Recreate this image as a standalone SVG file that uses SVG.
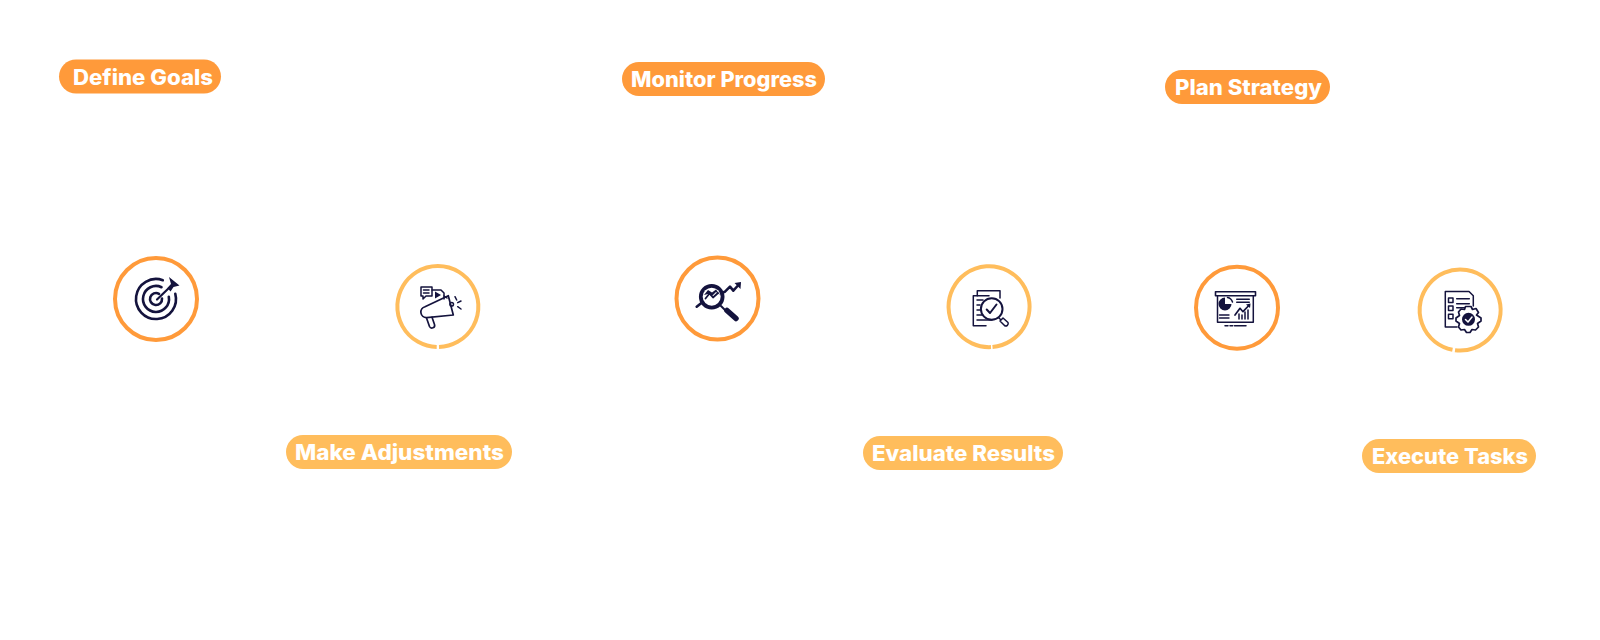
<svg xmlns="http://www.w3.org/2000/svg" width="1600" height="640" viewBox="0 0 1600 640">
<style>
.pill{stroke:none}
.dark{fill:#ff9a3a}
.light{fill:#ffbd5c}
.lbl{font-family:Inter,"Open Sans","DejaVu Sans",sans-serif;font-weight:800;font-size:21px;fill:#fff}
.ring{fill:#fff;stroke-width:4}
.rd{stroke:#ff9a3a}
.rl{stroke:#ffbd5c}
.i{fill:none;stroke:#14133d;stroke-width:1.5;stroke-linecap:round;stroke-linejoin:round}
.t{stroke-width:2.6}
.f{fill:#14133d;stroke:none}
</style>
<rect width="1600" height="640" fill="#fff"/>
<g id="connectors"></g>

<g id="define-goals">
<rect class="pill dark" x="59" y="59.500" width="162" height="34" rx="17"/>
<text class="lbl" x="73" y="85" textLength="140" lengthAdjust="spacingAndGlyphs">Define Goals</text>
<circle class="ring rd" cx="156" cy="299" r="41"/>
<g class="i t">
<path d="M162.800 280.200A20 20 0 1 0 175.300 293.800"/>
<path d="M161.500 287.200A13 13 0 1 0 168.800 296.700"/>
<path d="M159 293.800A6 6 0 1 0 162 298.500"/>
<path d="M157 299.500L172 285" stroke-width="2.200"/>
</g>
<path class="f" d="M169 277L179.500 285.500L173.500 287L170.500 291.500L167.500 288L171 284Z"/>
</g>

<g id="make-adjustments">
<rect class="pill light" x="286" y="435" width="226" height="34" rx="17"/>
<text class="lbl" x="295" y="460" textLength="209" lengthAdjust="spacingAndGlyphs">Make Adjustments</text>
<path class="ring rl" d="M439 347A40.500 40.500 0 1 0 436.700 347"/>
<g class="i">
<path d="M421 287H432V296H426L423 299V296H421Z"/>
<path d="M423.500 290H429M423.500 293H429"/>
<path d="M432 290H441L444 293V299"/>
<path class="f" d="M435 291.500L441 295L435 298.500Z"/>
<path d="M425 306.700L448.300 295.700L453.300 315L426.700 317.700A5.600 5.600 0 0 1 425 306.700Z" stroke-width="1.700"/>
<path d="M447 298L444 296"/>
<path d="M426.500 318L429.500 326.500A2.700 2.700 0 0 0 434.500 324.500L432 317.200" stroke-width="1.700"/>
<circle cx="451.700" cy="304.300" r="1.800"/>
<path d="M455 296.700L456.700 300M457.700 302.700L461 301M457.700 306.700L461 309"/>
</g>
</g>

<g id="monitor-progress">
<rect class="pill dark" x="622" y="62" width="203" height="34" rx="17"/>
<text class="lbl" x="631" y="87" textLength="186" lengthAdjust="spacingAndGlyphs">Monitor Progress</text>
<circle class="ring rd" cx="717.500" cy="298.500" r="41"/>
<circle class="f" cx="711.700" cy="296.700" r="12.800"/>
<circle cx="711.700" cy="296.700" r="9" fill="#fff"/>
<path class="f" d="M704 295L708 290L712 292.500L716 289.500L720 295L716 292L712 296L708 294Z"/>
<g class="i t">
<path d="M705.500 298.500L709.500 293.500L713 297.500L718 293" stroke-width="1.800"/>
<path d="M696.700 306.700L702 302.500"/>
<path d="M721 293L725 291.700L730 286.700L733.300 290.700L738 285.500"/>
<path d="M721 306L725 310" stroke-width="2"/>
<path d="M727 310.500L736 318.500" stroke-width="5.500"/>
</g>
<path class="f" d="M734.500 283L741 282L740.500 289Z"/>
</g>

<g id="evaluate-results">
<rect class="pill light" x="863" y="436" width="200" height="34" rx="17"/>
<text class="lbl" x="872" y="461" textLength="183" lengthAdjust="spacingAndGlyphs">Evaluate Results</text>
<path class="ring rl" d="M992.500 347A40.500 40.500 0 1 0 991 347.100"/>
<g class="i">
<path d="M977.300 295.700V290.700H1000V298"/>
<path d="M986 325.700H973.300V295.700H989"/>
<path d="M977 300H983M977 305H980M977 310H980M977 315H982M977 320H992"/>
<circle cx="991.700" cy="309" r="10.800" stroke-width="2"/>
<path d="M986.700 309.500L990 313L996.500 304.500" stroke-width="2"/>
<path d="M998.500 317.500L1000.500 319.500"/>
<path d="M1000 321L1003 318L1008 322.500A2.400 2.400 0 0 1 1004.500 325.500Z"/>
</g>
</g>

<g id="plan-strategy">
<rect class="pill dark" x="1165" y="70" width="165" height="34" rx="17"/>
<text class="lbl" x="1175" y="95" textLength="147" lengthAdjust="spacingAndGlyphs">Plan Strategy</text>
<circle class="ring rd" cx="1237" cy="307.700" r="41"/>
<g class="i">
<path d="M1215.500 291.700H1255.500V295.700H1215.500Z" stroke-width="1.600"/>
<path d="M1217.500 295.700V322.300H1253.300V295.700"/>
<path class="f" d="M1225 297.500A6.500 6.500 0 1 0 1231.500 304H1225Z"/>
<path d="M1227.500 297.500A6.500 6.500 0 0 1 1232.500 302"/>
<path d="M1236.700 299.300H1249.300M1236.700 302.300H1249.300" stroke-width="1.400"/>
<path d="M1219.500 315H1229M1219.500 318H1229" stroke-width="1.400"/>
<path d="M1235 315L1240 308.300L1243 311.700L1249.300 305" stroke-width="1.700"/>
<path class="f" d="M1246 304.500L1250.500 303.500L1250 308Z"/>
<path d="M1239 319V314M1242 319V315M1245 319V312M1248 319V310"/>
<path d="M1225 325.700H1228M1230 325.700H1232.700M1234.500 325.700H1246"/>
</g>
</g>

<g id="execute-tasks">
<rect class="pill light" x="1362" y="439" width="174" height="34" rx="17"/>
<text class="lbl" x="1372" y="464" textLength="156" lengthAdjust="spacingAndGlyphs">Execute Tasks</text>
<path class="ring rl" d="M1455 350.200A40.500 40.500 0 1 0 1452.500 349.800"/>
<g class="i">
<path d="M1457 327H1445.300V291.500H1469L1473.300 295.700V306"/>
<path d="M1448.500 298H1453V302.500H1448.500ZM1448.500 306H1453V310.500H1448.500ZM1448.500 314.300H1453V318.700H1448.500Z"/>
<path d="M1456.700 298.700H1469.300M1456.700 303.700H1469.300M1456.700 307.700H1465"/>
<path fill="#fff" d="M1465.500 306.500L1471 306.500L1472.500 309.500L1476 308.500L1478.500 312.500L1476.500 315L1481 318L1481 321L1477.500 323.500L1478.500 327L1475.500 330L1472 329.500L1470 332.500L1466.500 332.500L1464.500 329.500L1461 330L1458.500 327L1459.500 323.500L1456 321L1456 318L1459.500 315.500L1458.500 312L1461 309L1464.500 309.500Z" stroke-width="1.700"/>
<circle cx="1468.500" cy="319.300" r="6.500" class="f"/>
<path d="M1465.500 319.500L1468 322L1472 317" stroke="#fff" fill="none" stroke-width="1.500"/>
</g>
</g>
</svg>
